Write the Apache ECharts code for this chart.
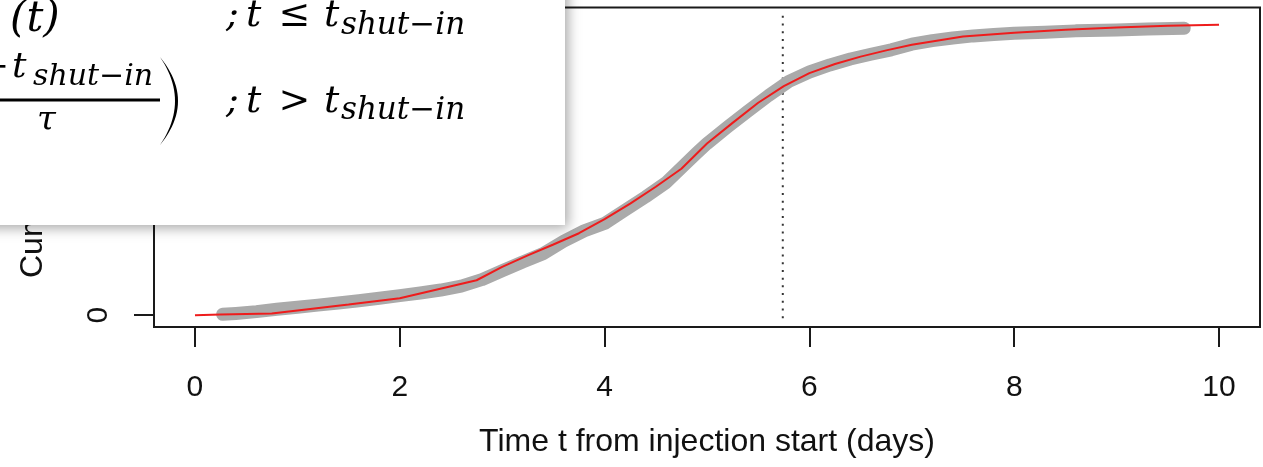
<!DOCTYPE html>
<html>
<head>
<meta charset="utf-8">
<script src="https://cdn.jsdelivr.net/npm/echarts@6.0.0/dist/echarts.min.js"></script>
<style>
  html, body { margin: 0; padding: 0; background: #fff; }
  #chart { width: 1263px; height: 467px; }
</style>
</head>
<body>
<div id="chart"></div>
<script>
// Observed cumulative count (thick grey trace)
const obsTime  = [0.27, 0.4, 0.6, 0.8, 1.0, 1.2, 1.4, 1.6, 1.8, 2.0, 2.2, 2.4, 2.6, 2.8, 3.0, 3.2, 3.4, 3.6, 3.8, 4.0,
                  4.2, 4.4, 4.6, 4.8, 4.9, 5.0, 5.2, 5.4, 5.6, 5.8, 6.0, 6.2, 6.4, 6.6, 6.8, 7.0, 7.2, 7.4, 7.6, 7.8,
                  8.0, 8.3, 8.6, 9.0, 9.3, 9.66];
const obsCount = [3, 6, 12, 20, 27, 34, 41, 49, 57, 66, 75, 85, 98, 120, 150, 180, 208, 250, 285, 310,
                  355, 400, 448, 515, 548, 580, 636, 690, 742, 790, 822, 846, 866, 882, 897, 916, 928, 937, 944, 949,
                  953, 956, 961, 964, 967, 970];

// Model curve (red)
const modelTime  = [0, 0.25, 0.5, 0.75, 1, 1.5, 2, 2.5, 2.75, 3, 3.25, 3.5, 3.75, 4, 4.25, 4.5, 4.75, 5, 5.25, 5.5,
                    5.75, 6, 6.25, 6.5, 6.75, 7, 7.5, 8, 8.5, 9, 9.5, 10];
const modelCount = [0, 2, 4, 6, 16, 36, 57, 98, 118, 163, 202, 239, 277, 325, 377, 434, 495, 580, 650, 718,
                    774, 818, 849, 874, 895, 914, 942, 955, 965, 972, 978, 982];

// Shut-in time and the vertical extent of its marker line
const shutInDay = 5.74;
const shutInSpan = [-10, 1015];

// Tick positions
const xTicks = [0, 2, 4, 6, 8, 10];
const yTicks = [0, 500, 1000];

const xTitle = 'Time t from injection start (days)';
const yTitle = 'Cumulative number of events';

const zip = (a, b) => a.map((v, i) => [v, b[i]]);

const chart = echarts.init(document.getElementById('chart'), null, { renderer: 'canvas' });

const mathFont = (size) => 'italic ' + size + 'px "DejaVu Serif"';
const mid = (baseline, size) => baseline - 0.346 * size;

function mtext(text, x, baseline, size, align) {
  return {
    type: 'text', z: 110, x: x, y: mid(baseline, size),
    style: { text: text, font: mathFont(size), fill: '#000',
             align: align || 'left', textAlign: align || 'left',
             verticalAlign: 'middle', textVerticalAlign: 'middle' }
  };
}

// Tall closing bracket as a thin crescent (two quadratic arcs)
function bracketPoints(x, yTop, yBot, outerCtrl, innerCtrl) {
  const pts = [];
  const ym = (yTop + yBot) / 2;
  const n = 24;
  for (let i = 0; i <= n; i++) {
    const t = i / n;
    pts.push([(1 - t) * (1 - t) * x + 2 * t * (1 - t) * outerCtrl + t * t * x,
              (1 - t) * (1 - t) * yTop + 2 * t * (1 - t) * ym + t * t * yBot]);
  }
  for (let i = n; i >= 0; i--) {
    const t = i / n;
    pts.push([(1 - t) * (1 - t) * x + 2 * t * (1 - t) * innerCtrl + t * t * x,
              (1 - t) * (1 - t) * yTop + 2 * t * (1 - t) * ym + t * t * yBot]);
  }
  return pts;
}

const labelFont = '"Liberation Sans", Arial, sans-serif';

const option = {
  animation: false,
  backgroundColor: '#fff',
  grid: {
    left: 154, right: 3, top: 7.5, bottom: 140,
    show: true, borderColor: '#1a1a1a', borderWidth: 2,
    backgroundColor: 'transparent', outerBoundsMode: 'none'
  },
  xAxis: {
    type: 'value', min: -0.4, max: 10.4,
    axisLine: { show: false, onZero: false },
    splitLine: { show: false },
    axisTick: { show: true, customValues: xTicks, length: 20, lineStyle: { color: '#1a1a1a', width: 2 } },
    axisLabel: { customValues: xTicks, fontSize: 30, fontFamily: labelFont, color: '#111', margin: 46 },
    name: xTitle, nameLocation: 'middle', nameGap: 99,
    nameTextStyle: { fontSize: 32, fontFamily: labelFont, color: '#111' }
  },
  yAxis: {
    type: 'value', min: -40, max: 1040,
    axisLine: { show: false, onZero: false },
    splitLine: { show: false },
    axisTick: { show: true, customValues: yTicks, length: 20, lineStyle: { color: '#1a1a1a', width: 2 } },
    axisLabel: { customValues: yTicks, rotate: 90, fontSize: 30, fontFamily: labelFont, color: '#111', margin: 40 }
  },
  series: [
    {
      type: 'line', name: 'observed', data: zip(obsTime, obsCount),
      showSymbol: false, symbol: 'none', smooth: false, z: 2,
      lineStyle: { color: '#aaaaaa', width: 13, cap: 'round', join: 'round' }
    },
    {
      type: 'line', name: 'model', data: zip(modelTime, modelCount),
      showSymbol: false, symbol: 'none', smooth: false, z: 3,
      lineStyle: { color: '#ee1c1c', width: 2 }
    },
    {
      type: 'line', name: 'shut-in', data: [[shutInDay, shutInSpan[0]], [shutInDay, shutInSpan[1]]],
      showSymbol: false, symbol: 'none', z: 1,
      lineStyle: { color: '#333', width: 2, type: [2, 5.7] }
    }
  ],
  graphic: {
    elements: [
      // y-axis title
      {
        type: 'text', z: 10, x: 33, y: 278, rotation: Math.PI / 2,
        style: { text: yTitle, font: '32px ' + labelFont, fill: '#111',
                 align: 'left', textAlign: 'left', verticalAlign: 'middle', textVerticalAlign: 'middle' }
      },
      // formula panel
      {
        type: 'rect', z: 100,
        shape: { x: -20, y: -20, width: 585, height: 245 },
        style: { fill: '#fff', shadowBlur: 12, shadowColor: 'rgba(0,0,0,0.35)', shadowOffsetX: 3, shadowOffsetY: 3 }
      },
      // first case
      mtext('(t)', 10, 35, 42),
      mtext(';', 226, 29, 38),
      mtext('t', 246, 29, 38),
      mtext('\u2264', 294.5, 29, 38, 'center'),
      mtext('t', 324, 29, 38),
      mtext('shut\u2212in', 341, 37, 31),
      // second case: fraction
      mtext('\u2212', 9, 80, 34, 'right'),
      mtext('t', 12, 80, 36),
      mtext('shut\u2212in', 33, 88, 30),
      {
        type: 'rect', z: 110,
        shape: { x: -5, y: 98.5, width: 165, height: 3 },
        style: { fill: '#000' }
      },
      mtext('\u03c4', 46.5, 133, 34, 'center'),
      {
        type: 'polygon', z: 110,
        shape: { points: bracketPoints(160, 57, 145, 196, 190) },
        style: { fill: '#000' }
      },
      mtext(';', 226, 115, 38),
      mtext('t', 246, 115, 38),
      mtext('>', 294.5, 115, 38, 'center'),
      mtext('t', 324, 115, 38),
      mtext('shut\u2212in', 341, 122, 31)
    ]
  }
};

chart.setOption(option);
</script>
</body>
</html>
